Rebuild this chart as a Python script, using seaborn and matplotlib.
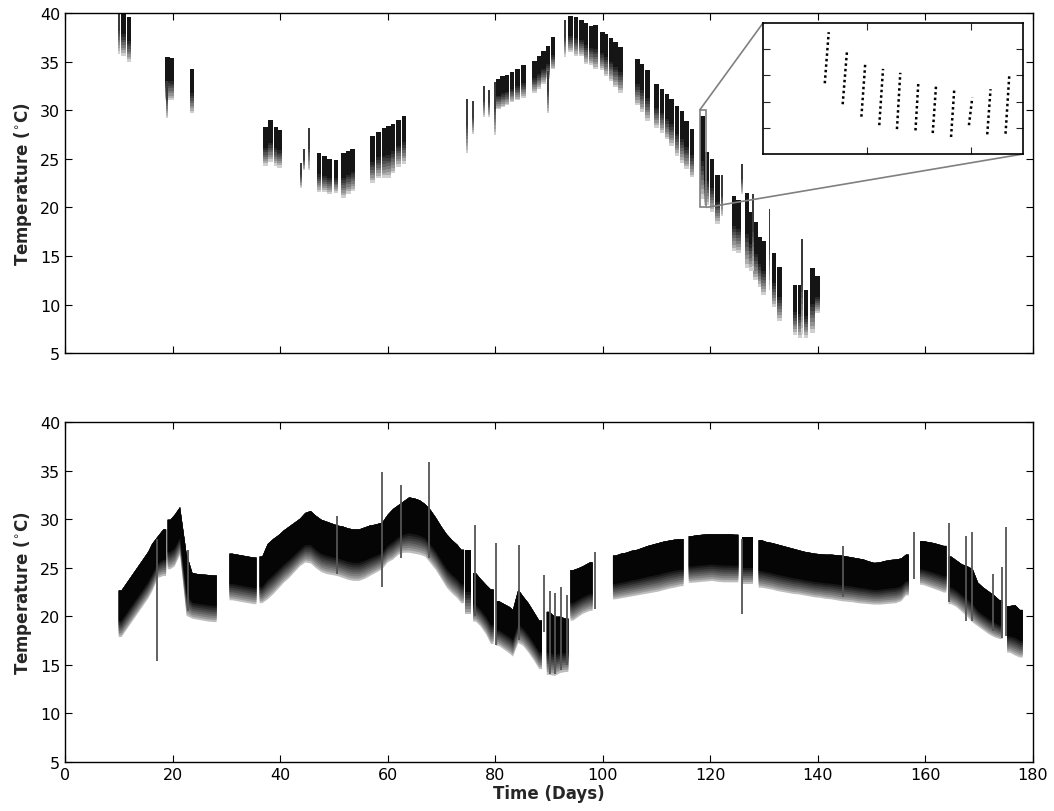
import numpy as np
import pandas as pd
import matplotlib
matplotlib.use("Agg")
import matplotlib.pyplot as plt
import matplotlib.colors as mcolors
import seaborn as sns
from mpl_toolkits.axes_grid1.inset_locator import mark_inset

# ---------------- data ----------------
# top panel: daily bands (day, min, max)
top_day = [10.9, 11.9, 19.1, 19.9, 23.6, 37.3, 38.2, 39.2, 39.9, 47.2, 48.2, 49.2, 50.4,
           51.8, 52.7, 53.5, 57.2, 58.3, 59.3, 60.2, 61.0, 62.0, 63.0, 80.6, 81.4, 82.2,
           83.1, 84.1, 85.2, 87.3, 88.1, 89.0, 89.8, 90.7, 94.0, 95.0, 96.0, 96.9, 97.9,
           98.6, 99.9, 100.6, 101.5, 102.4, 103.3, 106.5, 107.3, 108.3, 110.0, 111.0,
           111.9, 112.8, 113.8, 114.7, 115.6, 116.6, 118.5, 119.3, 120.3, 121.3, 124.4,
           125.2, 126.8, 127.7, 128.4, 129.2, 129.9, 131.8, 132.9, 135.7, 136.7, 137.8,
           139.0, 139.9]
top_lo = [35.6, 35.0, 31.0, 31.0, 29.7, 24.3, 24.7, 24.3, 24.1, 21.6, 21.6, 21.4, 21.5,
          21.0, 21.4, 21.7, 22.5, 23.0, 23.0, 23.0, 23.5, 24.2, 24.5, 30.1, 30.3, 30.5,
          30.8, 31.0, 31.3, 31.8, 32.2, 32.7, 33.2, 34.2, 36.0, 35.6, 35.6, 34.75, 34.6,
          34.2, 34.1, 33.5, 33.0, 32.35, 31.8, 30.5, 29.8, 28.9, 28.2, 27.7,
          27.0, 26.35, 25.3, 24.6, 23.95, 23.1, 20.9, 20.2, 19.5, 18.3, 15.55,
          15.3, 13.8, 13.5, 12.5, 11.8, 11.0, 9.8, 8.3, 6.9, 6.6, 6.6,
          7.1, 9.1]
top_hi = [40.5, 39.6, 35.5, 35.4, 34.2, 28.3, 29.0, 28.3, 28.0, 25.6, 25.3, 25.0, 24.9,
          25.6, 25.8, 26.0, 27.3, 27.8, 28.2, 28.4, 28.6, 29.0, 29.4, 33.2, 33.5, 33.6,
          33.9, 34.2, 34.6, 35.1, 35.6, 36.1, 36.6, 37.5, 39.7, 39.6, 39.3, 39.0, 38.7,
          38.8, 38.0, 37.8, 37.4, 37.0, 36.5, 35.3, 34.75, 34.1, 32.7, 32.2,
          31.7, 31.2, 30.4, 29.95, 28.9, 28.1, 29.4, 25.7, 25.0, 23.3, 21.2,
          20.8, 21.5, 19.5, 18.5, 17.0, 16.5, 15.3, 13.9, 12.05, 12.0, 11.5,
          13.8, 12.9]
# top panel: isolated thin strokes (day, min, max)
top_stroke_day = [10.1, 19.0, 43.8, 44.5, 45.4, 74.8, 75.8, 77.9, 78.9, 80.0, 89.8, 92.9,
                  122.2, 125.9, 127.9, 131.0, 137.0]
top_stroke_lo = [35.8, 29.2, 22.0, 23.8, 23.8, 25.6, 27.55, 29.3, 29.3, 27.4, 29.7, 35.5,
                 19.1, 21.4, 13.5, 11.5, 7.0]
top_stroke_hi = [40.5, 33.0, 24.6, 26.0, 28.2, 31.15, 30.9, 32.5, 32.1, 32.9, 34.0, 39.3,
                 23.3, 24.5, 21.4, 19.8, 16.75]

# bottom panel: daily bands (day, min, max)
bot_day = [10.4, 11.4, 12.4, 13.4, 14.4, 15.4, 16.1, 17.2, 18.2, 19.5, 20.3, 21.3, 22.5,
           23.6, 24.6, 25.6, 26.6, 27.6, 31.0, 32.0, 33.0, 34.0, 35.0, 36.6, 37.6, 38.6,
           39.6, 40.6, 41.6, 42.6, 43.6, 44.6, 45.6, 46.6, 47.6, 48.6, 49.6, 50.6, 51.6,
           52.6, 53.6, 54.6, 55.6, 56.6, 57.6, 58.9, 59.9, 60.9, 61.9, 62.9, 63.9, 64.9,
           65.9, 66.9, 67.9, 68.9, 69.9, 70.9, 71.9, 72.9, 73.6, 74.9, 76.3, 77.2, 78.2,
           79.1, 80.6, 81.6, 82.6, 83.2, 84.2, 85.1, 86.1, 87.1, 88.1, 90.0, 91.0, 92.0,
           93.0, 94.4, 95.4, 96.2, 97.5, 102.3, 103.3, 104.3, 105.3, 106.3, 107.3, 108.3,
           109.3, 110.3, 111.3, 112.3, 113.3, 114.4, 116.4, 117.4, 118.4, 119.4, 120.2,
           121.4, 122.4, 123.4, 124.6, 126.4, 127.4, 129.4, 130.4, 131.4, 132.4, 133.4,
           134.4, 135.4, 136.4, 137.4, 138.4, 139.4, 140.4, 141.4, 142.4, 143.4, 144.4,
           145.4, 146.4, 147.4, 148.4, 149.4, 150.4, 151.4, 152.4, 153.4, 154.4, 155.4,
           156.3, 159.4, 160.4, 161.4, 162.4, 163.3, 164.7, 165.7, 166.7, 167.7, 168.7,
           169.7, 170.7, 171.7, 172.7, 173.7, 175.6, 176.6, 177.5]
bot_lo = [17.9, 18.7, 19.5, 20.3, 21.1, 21.9, 22.6, 24.0, 24.2, 24.9, 25.2, 26.4, 20.1,
          19.8, 19.7, 19.6, 19.5, 19.45, 21.7, 21.6, 21.5, 21.4, 21.3, 21.4, 21.8, 22.3,
          22.9, 23.5, 24.0, 24.6, 25.2, 25.6, 25.5, 25.0, 24.6, 24.4, 24.3, 24.2, 24.0,
          23.8, 23.7, 23.7, 23.9, 24.2, 24.5, 24.9, 25.6, 25.9, 26.4, 26.6, 26.6, 26.5,
          26.4, 26.2, 25.5, 24.8, 23.9, 23.0, 22.4, 21.9, 21.4, 20.2, 19.5, 19.0, 18.2,
          17.2, 17.0, 16.6, 16.2, 15.9, 17.3, 17.0, 16.3, 15.5, 14.6, 14.0, 13.9, 14.2,
          14.3, 19.6, 20.0, 20.3, 20.6, 21.8, 21.9, 22.0, 22.1, 22.2, 22.3, 22.4,
          22.5, 22.6, 22.75, 22.9, 23.0, 23.15, 23.5, 23.55, 23.6, 23.65, 23.7,
          23.6, 23.55, 23.55, 23.55, 23.3, 23.3, 23.0, 22.9, 22.8, 22.65, 22.55,
          22.45, 22.35, 22.3, 22.2, 22.1, 22.0, 21.95, 21.85, 21.8, 21.7, 21.6,
          21.55, 21.5, 21.4, 21.35, 21.3, 21.25, 21.25, 21.3, 21.35, 21.4, 21.6,
          22.2, 23.3, 23.1, 22.9, 22.7, 22.5, 21.3, 21.0, 20.5, 20.0, 19.4,
          19.0, 18.6, 18.2, 17.9, 17.7, 16.3, 16.0, 15.8]
bot_hi = [22.7, 23.5, 24.3, 25.1, 25.9, 26.7, 27.5, 28.3, 29.0, 30.0, 30.5, 31.3, 26.5,
          24.5, 24.4, 24.35, 24.3, 24.25, 26.5, 26.4, 26.3, 26.2, 26.1, 26.2, 27.5, 28.0,
          28.4, 28.9, 29.3, 29.7, 30.1, 30.7, 30.9, 30.4, 30.0, 29.8, 29.6, 29.4, 29.3,
          29.1, 29.0, 29.0, 29.2, 29.4, 29.5, 29.7, 30.5, 31.1, 31.5, 31.9, 32.3, 32.2,
          32.0, 31.6, 31.0, 30.2, 29.3, 28.5, 27.9, 27.4, 26.9, 26.8, 24.5, 23.9, 23.3,
          22.8, 21.6, 21.3, 21.0, 20.7, 22.8, 22.1, 21.4, 20.5, 19.6, 20.5, 20.0, 20.0,
          19.8, 24.8, 25.0, 25.2, 25.6, 26.3, 26.5, 26.6, 26.8, 26.9, 27.1, 27.3,
          27.45, 27.6, 27.75, 27.85, 27.95, 28.0, 28.3, 28.4, 28.45, 28.5, 28.5,
          28.5, 28.5, 28.5, 28.45, 28.15, 28.15, 27.9, 27.7, 27.6, 27.45, 27.3,
          27.15, 27.0, 26.85, 26.7, 26.6, 26.5, 26.45, 26.4, 26.4, 26.35, 26.3,
          26.2, 26.1, 26.0, 25.9, 25.7, 25.55, 25.6, 25.75, 25.85, 25.9, 26.0,
          26.4, 27.8, 27.7, 27.6, 27.45, 27.3, 26.2, 25.8, 25.4, 25.2, 24.9,
          23.5, 23.0, 22.6, 22.2, 21.7, 21.1, 21.2, 20.7]
# bottom panel: thin spikes (day, min, max)
bot_spike_day = [17.1, 22.9, 50.5, 58.9, 62.5, 67.6, 76.2, 80.1, 84.5, 89.1, 90.2, 91.1,
                 92.3, 93.4, 98.6, 125.9, 144.7, 157.9, 164.3, 167.5, 168.6, 172.6,
                 174.2, 175.0]
bot_spike_lo = [15.4, 20.5, 24.4, 23.0, 26.0, 26.0, 20.0, 17.0, 17.5, 18.35, 14.0, 14.0,
                14.5, 15.0, 20.75, 20.2, 22.0, 23.85, 21.5, 19.5, 19.5, 18.5, 17.8, 18.0]
bot_spike_hi = [28.0, 26.8, 30.3, 34.85, 33.5, 35.9, 29.4, 27.55, 27.35, 24.25, 22.6,
                22.4, 23.0, 22.2, 26.65, 28.0, 27.2, 28.7, 29.6, 28.3, 28.65, 24.35,
                25.05, 29.2]

# inset: individual sampling bursts (start/end time, min/max temperature)
burst_start = [118.297, 118.383, 118.473, 118.559, 118.644, 118.733, 118.816, 118.904,
               118.990, 119.078, 119.166]
burst_end = [118.316, 118.404, 118.492, 118.577, 118.660, 118.747, 118.832, 118.920,
             119.006, 119.094, 119.184]
burst_lo = [25.4, 23.8, 22.85, 22.2, 21.9, 21.8, 21.6, 21.3, 22.2, 21.5, 21.55]
burst_hi = [29.3, 27.9, 27.0, 26.5, 26.2, 25.5, 25.25, 25.05, 24.3, 24.95, 26.0]

xticks = [0, 20, 40, 60, 80, 100, 120, 140, 160, 180]
yticks = [5, 10, 15, 20, 25, 30, 35, 40]

# ---------------- style ----------------
sns.set_style("ticks")
plt.rcParams['font.family'] = ['DejaVu Sans']
plt.rcParams['mathtext.fontset'] = 'dejavusans'

fig = plt.figure(figsize=(10.54, 8.12), dpi=100)
ax1 = fig.add_axes([0.0617, 0.5637, 0.9184, 0.4191])
ax2 = fig.add_axes([0.0617, 0.0607, 0.9184, 0.4180])

N_LAYERS = 9


def shade_list(light, dark, n):
    c0 = np.array(mcolors.to_rgb(light))
    c1 = np.array(mcolors.to_rgb(dark))
    return [tuple(c0 + (c1 - c0) * (k / (n - 1)) ** 0.8) for k in range(n)]


def draw_bars(ax, day, lo, hi, width, light, dark, top_frac):
    d = np.asarray(day, float)
    lo = np.asarray(lo, float)
    hi = np.asarray(hi, float)
    r = hi - lo
    shades = shade_list(light, dark, N_LAYERS)
    for k, c in enumerate(shades):
        f = top_frac * k / (N_LAYERS - 1)
        b = lo + f * r
        ax.bar(d, hi - b, bottom=b, width=width, color=c, linewidth=0)


def draw_fill(ax, day, lo, hi, light, dark, top_frac, max_gap=1.3):
    d = np.asarray(day, float)
    lo = np.asarray(lo, float)
    hi = np.asarray(hi, float)
    breaks = np.where(np.diff(d) > max_gap)[0] + 1
    shades = shade_list(light, dark, N_LAYERS)
    for idx in np.split(np.arange(len(d)), breaks):
        x = np.concatenate([[d[idx[0]] - 0.5], d[idx], [d[idx[-1]] + 0.5]])
        l = np.concatenate([[lo[idx[0]]], lo[idx], [lo[idx[-1]]]])
        h = np.concatenate([[hi[idx[0]]], hi[idx], [hi[idx[-1]]]])
        for k, c in enumerate(shades):
            f = top_frac * k / (N_LAYERS - 1)
            ax.fill_between(x, l + f * (h - l), h, color=c, linewidth=0)


def style_axis(ax, labels_x):
    ax.set_xlim(0, 180)
    ax.set_ylim(5, 40)
    ax.set_xticks(xticks)
    ax.set_yticks(yticks)
    ax.tick_params(direction='in', top=True, right=True, length=5, width=0.8,
                   labelsize=11.5, colors='black')
    if not labels_x:
        ax.set_xticklabels([])
    for s in ax.spines.values():
        s.set_visible(True)
        s.set_linewidth(1.0)
        s.set_color('black')
    ax.set_ylabel('Temperature ($^{\\circ}$C)', fontsize=12, fontweight='bold', labelpad=4)


# top panel
draw_bars(ax1, top_day, top_lo, top_hi, 0.85, '#d0d0d0', '#151515', 0.45)
draw_bars(ax1, top_stroke_day, top_stroke_lo, top_stroke_hi, 0.35, '#d0d0d0', '#3a3a3a', 0.5)
style_axis(ax1, False)

# bottom panel
draw_fill(ax2, bot_day, bot_lo, bot_hi, '#bdbdbd', '#050505', 0.35)
ax2.vlines(bot_spike_day, bot_spike_lo, bot_spike_hi, colors='#555555', linewidth=1.3)
style_axis(ax2, True)
ax2.set_xlabel('Time (Days)', fontsize=12, fontweight='bold', labelpad=2)

# inset
axins = fig.add_axes([0.7239, 0.8091, 0.2467, 0.1613])
rows = []
for i, (t0, t1, lo, hi) in enumerate(zip(burst_start, burst_end, burst_lo, burst_hi)):
    rows.append({'burst': i, 'day': t0, 'temp': lo})
    rows.append({'burst': i, 'day': t1, 'temp': hi})
bursts = pd.DataFrame(rows)
sns.lineplot(data=bursts, x='day', y='temp', units='burst', estimator=None, sort=False,
             color='black', linewidth=1.8, linestyle=(0, (1, 1.2)), ax=axins, legend=False)
axins.set_xlim(118.0, 119.25)
axins.set_ylim(20, 30)
axins.set_xticks([118.5, 119.0])
axins.set_yticks([22, 24, 26, 28])
axins.set_xticklabels([])
axins.set_yticklabels([])
axins.set_xlabel('')
axins.set_ylabel('')
axins.tick_params(direction='in', top=True, right=True, length=5, width=0.8)
for s in axins.spines.values():
    s.set_linewidth(1.2)
    s.set_color('black')
mark_inset(ax1, axins, loc1=2, loc2=4, fc='none', ec='0.5', lw=1.2)

fig.savefig('out.png', dpi=100)
